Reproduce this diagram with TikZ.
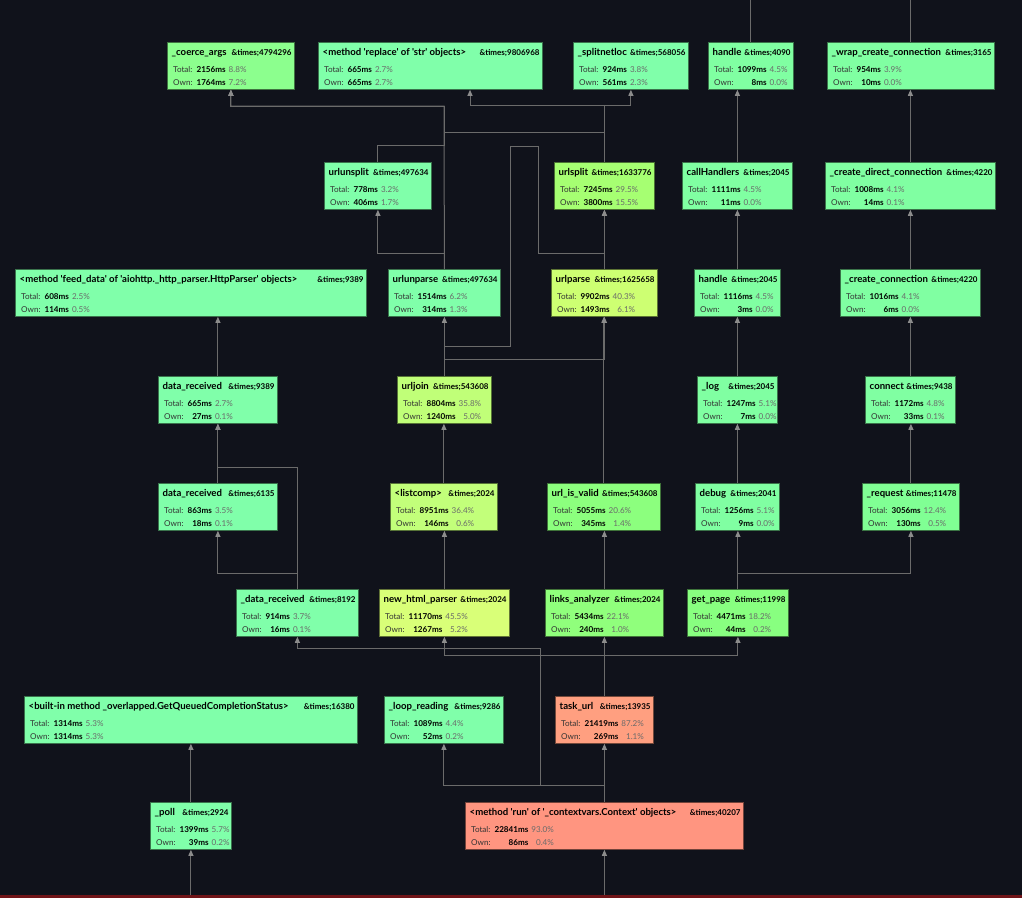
\documentclass[tikz,border=0pt]{standalone}
\usepackage{fontspec}
\newfontfamily\mf{Lato}
\usetikzlibrary{arrows.meta}
\definecolor{bg}{HTML}{10121B}
\definecolor{redstrip}{HTML}{701418}
\definecolor{lc}{HTML}{6B6B6B}
\definecolor{ac}{HTML}{8C8C8C}
\definecolor{lab}{HTML}{333333}
\definecolor{pct}{HTML}{6A6A6A}
\definecolor{gA}{HTML}{80FFAA}
\definecolor{gB}{HTML}{80FFA2}
\definecolor{gcoerce}{HTML}{8CFF8E}
\definecolor{gurlsplit}{HTML}{A6FF72}
\definecolor{gurlparse}{HTML}{CDFF72}
\definecolor{gurljoin}{HTML}{C0FF78}
\definecolor{glist}{HTML}{C2FF7A}
\definecolor{gnhp}{HTML}{D9FF78}
\definecolor{guiv}{HTML}{8CFF7E}
\definecolor{glinks}{HTML}{90FF7C}
\definecolor{ggetp}{HTML}{88FF80}
\definecolor{greq}{HTML}{80FF94}
\definecolor{ctask}{HTML}{FF9F80}
\definecolor{crun}{HTML}{FF9580}
\newcommand\ftitle{\fontsize{9.6}{10}\selectfont\bfseries}
\newcommand\ftimes{\fontsize{8.0}{9}\selectfont\bfseries}
\newcommand\fdet{\fontsize{8.1}{13}\selectfont}
\tikzset{
  fb/.style={draw=#1!45!black, fill=#1, line width=0.8pt, inner sep=0pt, minimum height=47pt, anchor=north west},
  txt/.style={inner sep=0pt, text=black},
  ed/.style={draw=lc, line width=1pt, -{Triangle[length=6pt,width=5pt,color=ac]}},
  ln/.style={draw=lc, line width=1pt},
}
\newcommand\bx[5]{\node[fb=#5, minimum width=#4pt] (#1) at (#2,#3) {};}
\newcommand\fct[7]{%
  \node[txt, anchor=base west] (#1-n) at ([xshift=4.5pt,yshift=-13pt]#1.north west) {\ftitle #2};
  \node[txt, anchor=base east] (#1-c) at ([xshift=-3pt,yshift=-13pt]#1.north east) {\ftimes\&times;#3};
  \node[txt, anchor=base west] (#1-d) at ([xshift=6pt,yshift=-30pt]#1.north west) {\fdet\begin{tabular}[t]{@{}l@{\hspace{4pt}}r@{\hspace{3pt}}r@{}}\color{lab}Total: & \textbf{#4ms} & \color{pct}#5\%\\ \color{lab}Own: & \textbf{#6ms} & \color{pct}#7\%\end{tabular}};
}
\begin{document}
\begin{tikzpicture}[x=1pt, y=-1pt, font=\mf]
\fill[bg] (0,0) rectangle (1022,898);
\useasboundingbox (0,0) rectangle (1022,898);
\fill[redstrip] (0,895) rectangle (1022,898);
\coordinate (topedge) at (0,0);
\coordinate (botedge) at (0,895);
\coordinate (rx) at (470,106);
\coordinate (b106) at (444,106);
\coordinate (j540) at (540,785);

% row 1
\bx{coerce}{167}{42}{127}{gcoerce}
\bx{replace}{318}{42}{224}{gA}
\bx{split}{573}{42}{115}{gA}
\bx{hA}{708}{42}{85}{gB}
\bx{wrap}{827}{42}{167}{gB}
% row 2
\bx{unsplit}{324}{162}{107}{gA}
\bx{urlsplit}{554}{162}{100}{gurlsplit}
\bx{callh}{682}{162}{110}{gB}
\bx{cdc}{825}{162}{170}{gB}
% row 3
\bx{feed}{15}{269}{351}{gA}
\bx{unparse}{388}{269}{112}{gA}
\bx{urlparse}{551}{269}{106}{gurlparse}
\bx{hB}{694}{269}{86}{gB}
\bx{cconn}{840}{269}{140}{gB}
% row 4
\bx{drA}{158}{376}{119}{gA}
\bx{urljoin}{397}{376}{94}{gurljoin}
\bx{log}{697}{376}{80}{gB}
\bx{connect}{865}{376}{90}{gB}
% row 5
\bx{drB}{158}{483}{119}{gA}
\bx{listcomp}{390}{483}{107}{glist}
\bx{uiv}{547}{483}{113}{guiv}
\bx{debug}{695}{483}{84}{gB}
\bx{req}{862}{483}{97}{greq}
% row 6
\bx{drC}{236}{589}{122}{gA}
\bx{nhp}{379}{589}{130}{gnhp}
\bx{links}{545}{589}{118}{glinks}
\bx{getp}{687}{589}{101}{ggetp}
% row 7
\bx{getq}{24}{696}{333}{gA}
\bx{loop}{384}{696}{119}{gA}
\bx{task}{555}{696}{98}{ctask}
% row 8
\bx{poll}{150}{802}{81}{gA}
\bx{run}{465}{802}{278}{crun}

% connectors
\draw[ed] (poll.north) -- (poll.north |- getq.south);
\draw[ed] (poll.south |- botedge) -- (poll.south);
\draw[ed] (run.south |- botedge) -- (run.south);
\draw[ed] (run.north) -- (run.north |- task.south);
\draw[ed] (run.north) -- ++(0,-17) -| (loop.south);
\draw[ed] (run.north) -- ++(0,-17) -- (j540) -- ++(0,-137) -| (drC.south);
\draw[ed] (task.north) -- (task.north |- links.south);
\draw[ed] (task.north) -- ++(0,-41) -| (nhp.south);
\draw[ed] (task.north) -- ++(0,-41) -| (getp.south);
\draw[ed] (getp.north) -- (getp.north |- debug.south);
\draw[ed] (getp.north) -- ++(0,-16) -| (req.south);
\draw[ed] (req.north) -- (req.north |- connect.south);
\draw[ed] (connect.north) -- (connect.north |- cconn.south);
\draw[ed] (cconn.north) -- (cconn.north |- cdc.south);
\draw[ed] (cdc.north) -- (cdc.north |- wrap.south);
\draw[ln] (wrap.north) -- (wrap.north |- topedge);
\draw[ed] (debug.north) -- (debug.north |- log.south);
\draw[ed] (log.north) -- (log.north |- hB.south);
\draw[ed] (hB.north) -- (hB.north |- callh.south);
\draw[ed] (callh.north) -- (callh.north |- hA.south);
\draw[ln] (hA.north) -- (hA.north |- topedge);
\draw[ed] (links.north) -- (links.north |- uiv.south);
\draw[ed] (uiv.north) -- (uiv.north |- urlparse.south);
\draw[ed] (nhp.north) -- (nhp.north |- listcomp.south);
\draw[ed] (listcomp.north) -- (listcomp.north |- urljoin.south);
\draw[ed] (urljoin.north) -- (urljoin.north |- unparse.south);
\draw[ed] (urljoin.north) -- ++(0,-17) -| (urlparse.south);
\draw[ed] (urljoin.north) -- ++(0,-30) -- ++(66,0) -- ++(0,-200) -- ++(28,0) -- ++(0,107) -| (urlsplit.south);
\draw[ed] (urlparse.north) -- (urlparse.north |- urlsplit.south);
\draw[ed] (unparse.north) -- ++(0,-16) -| (unsplit.south);
\draw[ed] (unparse.north) -- (b106) -| (coerce.south);
\draw[ed] (unsplit.north) -- ++(0,-17) -| (b106) -| (coerce.south);
\draw[ed] (urlsplit.north) -- ++(0,-30) -| (b106) -| (coerce.south);
\draw[ed] (urlsplit.north) -- ++(0,-57) -| (replace.south -| rx);
\draw[ed] (urlsplit.north) -- ++(0,-57) -| (split.south);
\draw[ed] (drC.north) -- ++(0,-122) -| (drA.south);
\draw[ed] (drC.north) -- ++(0,-16) -| (drB.south);
\draw[ed] (drB.north) -- (drB.north |- drA.south);
\draw[ed] (drA.north) -- (drA.north |- feed.south);

% texts
\fct{coerce}{\_coerce\_args}{4794296}{2156}{8.8}{1764}{7.2}
\fct{replace}{<method 'replace' of 'str' objects>}{9806968}{665}{2.7}{665}{2.7}
\fct{split}{\_splitnetloc}{568056}{924}{3.8}{561}{2.3}
\fct{hA}{handle}{4090}{1099}{4.5}{8}{0.0}
\fct{wrap}{\_wrap\_create\_connection}{3165}{954}{3.9}{10}{0.0}
\fct{unsplit}{urlunsplit}{497634}{778}{3.2}{406}{1.7}
\fct{urlsplit}{urlsplit}{1633776}{7245}{29.5}{3800}{15.5}
\fct{callh}{callHandlers}{2045}{1111}{4.5}{11}{0.0}
\fct{cdc}{\_create\_direct\_connection}{4220}{1008}{4.1}{14}{0.1}
\fct{feed}{<method 'feed\_data' of 'aiohttp.\_http\_parser.HttpParser' objects>}{9389}{608}{2.5}{114}{0.5}
\fct{unparse}{urlunparse}{497634}{1514}{6.2}{314}{1.3}
\fct{urlparse}{urlparse}{1625658}{9902}{40.3}{1493}{6.1}
\fct{hB}{handle}{2045}{1116}{4.5}{3}{0.0}
\fct{cconn}{\_create\_connection}{4220}{1016}{4.1}{6}{0.0}
\fct{drA}{data\_received}{9389}{665}{2.7}{27}{0.1}
\fct{urljoin}{urljoin}{543608}{8804}{35.8}{1240}{5.0}
\fct{log}{\_log}{2045}{1247}{5.1}{7}{0.0}
\fct{connect}{connect}{9438}{1172}{4.8}{33}{0.1}
\fct{drB}{data\_received}{6135}{863}{3.5}{18}{0.1}
\fct{listcomp}{<listcomp>}{2024}{8951}{36.4}{146}{0.6}
\fct{uiv}{url\_is\_valid}{543608}{5055}{20.6}{345}{1.4}
\fct{debug}{debug}{2041}{1256}{5.1}{9}{0.0}
\fct{req}{\_request}{11478}{3056}{12.4}{130}{0.5}
\fct{drC}{\_data\_received}{8192}{914}{3.7}{16}{0.1}
\fct{nhp}{new\_html\_parser}{2024}{11170}{45.5}{1267}{5.2}
\fct{links}{links\_analyzer}{2024}{5434}{22.1}{240}{1.0}
\fct{getp}{get\_page}{11998}{4471}{18.2}{44}{0.2}
\fct{getq}{<built-in method \_overlapped.GetQueuedCompletionStatus>}{16380}{1314}{5.3}{1314}{5.3}
\fct{loop}{\_loop\_reading}{9286}{1089}{4.4}{52}{0.2}
\fct{task}{task\_url}{13935}{21419}{87.2}{269}{1.1}
\fct{poll}{\_poll}{2924}{1399}{5.7}{39}{0.2}
\fct{run}{<method 'run' of '\_contextvars.Context' objects>}{40207}{22841}{93.0}{86}{0.4}
\end{tikzpicture}
\end{document}
